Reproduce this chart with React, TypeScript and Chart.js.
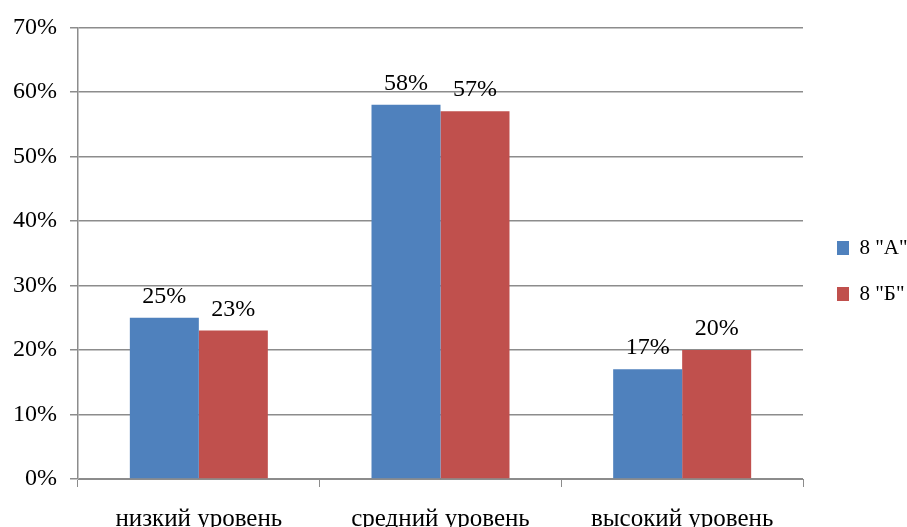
import React, { useEffect, useRef } from "react";
import { Chart, registerables } from "chart.js";

Chart.register(...registerables);

const categories = ["низкий уровень", "средний уровень", "высокий уровень"];
const seriesNames = ['8 "А"', '8 "Б"'];
const seriesA = [25, 58, 17];
const seriesB = [23, 57, 20];
const yTicks = [0, 10, 20, 30, 40, 50, 60, 70];

const FONT = "'Liberation Serif', 'Times New Roman', serif";
const GRID = "#8c8c8c";

const valueLabels = {
  id: "valueLabels",
  afterDatasetsDraw(chart: any) {
    const ctx = chart.ctx;
    ctx.save();
    ctx.font = `24px ${FONT}`;
    ctx.fillStyle = "#000";
    ctx.textAlign = "center";
    ctx.textBaseline = "alphabetic";
    chart.data.datasets.forEach((ds: any, i: number) => {
      const meta = chart.getDatasetMeta(i);
      meta.data.forEach((bar: any, j: number) => {
        ctx.fillText(`${ds.data[j]}%`, bar.x, bar.y - 15);
      });
    });
    ctx.restore();
  },
};

const legendShift = {
  id: "legendShift",
  afterLayout(chart: any) {
    const lg = chart.legend;
    if (!lg) return;
    const dx = 9;
    const dy = -5;
    lg.left += dx;
    lg.right += dx;
    lg.top += dy;
    lg.bottom += dy;
  },
};

export default function App() {
  const ref = useRef<HTMLCanvasElement | null>(null);
  useEffect(() => {
    document.body.style.margin = "0";
    const chart = new Chart(ref.current!, {
      type: "bar",
      data: {
        labels: categories,
        datasets: [
          { label: seriesNames[0], data: seriesA, backgroundColor: "#4F81BD", borderWidth: 0 },
          { label: seriesNames[1], data: seriesB, backgroundColor: "#C0504D", borderWidth: 0 },
        ],
      },
      options: {
        animation: false,
        responsive: true,
        maintainAspectRatio: false,
        layout: { padding: { top: 25, left: 0, right: 0, bottom: 0 } },
        categoryPercentage: 0.571,
        barPercentage: 1,
        plugins: {
          tooltip: { enabled: false },
          legend: {
            position: "right",
            maxWidth: 104,
            labels: {
              boxWidth: 12,
              boxHeight: 14,
              padding: 25,
              color: "#000",
              font: { family: FONT, size: 21 },
            },
          },
        },
        scales: {
          x: {
            afterFit(s: any) {
              s.height = 48;
            },
            grid: {
              display: true,
              drawOnChartArea: false,
              drawTicks: true,
              tickLength: 8,
              color: GRID,
              offset: true,
            },
            border: { display: true, color: GRID, width: 1 },
            ticks: {
              color: "#000",
              padding: 17,
              maxRotation: 0,
              font: { family: FONT, size: 25 },
            },
          },
          y: {
            min: 0,
            max: 70,
            afterFit(s: any) {
              s.width = 78;
            },
            afterBuildTicks(s: any) {
              s.ticks = yTicks.map((v) => ({ value: v }));
            },
            grid: {
              color: GRID,
              lineWidth: 1.5,
              drawTicks: true,
              tickLength: 8,
            },
            border: { display: true, color: GRID, width: 1.5 },
            ticks: {
              color: "#000",
              padding: 13,
              font: { family: FONT, size: 24 },
              callback: (v: any) => `${v}%`,
            },
          },
        },
      },
      plugins: [valueLabels, legendShift],
    });
    return () => chart.destroy();
  }, []);
  return (
    <div style={{ position: "fixed", left: 0, top: 0, width: 907, height: 527, background: "#fff" }}>
      <canvas ref={ref} />
    </div>
  );
}
